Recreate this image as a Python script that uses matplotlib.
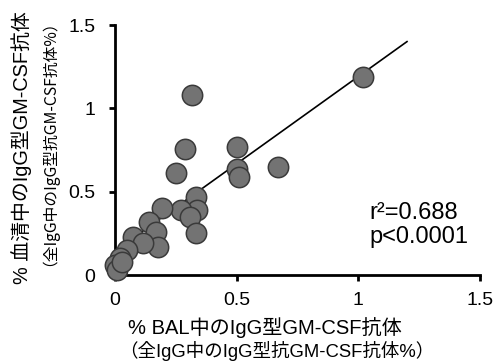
import matplotlib
matplotlib.use("Agg")
import matplotlib.pyplot as plt
import numpy as np

# BAL vs serum IgG GM-CSF autoantibody (%)
bal_pct = [1.02, 0.316, 0.288, 0.50, 0.25, 0.67, 0.50, 0.51, 0.333, 0.337, 0.27, 0.31,
           0.333, 0.193, 0.14, 0.17, 0.177, 0.074, 0.115, 0.05, 0.02, 0.0, 0.01, 0.03]
serum_pct = [1.19, 1.08, 0.755, 0.77, 0.61, 0.65, 0.635, 0.59, 0.47, 0.39, 0.39, 0.35,
             0.25, 0.40, 0.32, 0.26, 0.17, 0.23, 0.19, 0.15, 0.10, 0.06, 0.03, 0.08]
fit_slope = 1.047
fit_intercept = 0.144
fit_x_range = [0.0, 1.2]
ticks = [0, 0.5, 1, 1.5]
tick_labels = ["0", "0.5", "1", "1.5"]
stats_text = "r²=0.688\np<0.0001"
xlabel_lines = ["% BAL中のIgG型GM-CSF抗体", "（全IgG中のIgG型抗GM-CSF抗体%）"]
ylabel_lines = ["% 血清中のIgG型GM-CSF抗体", "（全IgG中のIgG型抗GM-CSF抗体%）"]

latin = ['Liberation Sans', 'Noto Sans CJK JP', 'DejaVu Sans']
cjk = ['Noto Sans CJK JP', 'DejaVu Sans']
plt.rcParams['font.family'] = latin

W, H = 497, 364
fig = plt.figure(figsize=(W / 100, H / 100), dpi=100)
ax = fig.add_axes([115 / W, 1 - 275 / H, 365 / W, 250 / H])

fx = np.array(fit_x_range)
ax.plot(fx, fit_slope * fx + fit_intercept, color="black", lw=1.2, zorder=2)
ax.scatter(bal_pct, serum_pct, s=215, facecolor="#737373", edgecolor="#3a3a3a",
           linewidth=1.1, zorder=3, clip_on=False)

ax.set_xlim(0, 1.5)
ax.set_ylim(0, 1.5)
ax.set_xticks(ticks)
ax.set_xticklabels(tick_labels)
ax.set_yticks(ticks)
ax.set_yticklabels(tick_labels)
for s in ["top", "right"]:
    ax.spines[s].set_visible(False)
for s in ["left", "bottom"]:
    ax.spines[s].set_linewidth(2.0)
ax.tick_params(axis="both", length=4, width=2, labelsize=14)
ax.tick_params(axis="y", pad=10)
ax.tick_params(axis="x", pad=8)
for lab in ax.get_xticklabels() + ax.get_yticklabels():
    lab.set_family(latin)

ax.text(1.045, 0.30, stats_text, fontsize=17, ha="left", va="center", linespacing=1.1,
        family=latin)

fig.text(128 / W, 1 - 328 / H, xlabel_lines[0], family=latin, fontsize=14.5,
         ha="left", va="center")
fig.text(119 / W, 1 - 351 / H, xlabel_lines[1], family=latin, fontsize=13.3,
         ha="left", va="center")
fig.text(22 / W, 1 - 148 / H, ylabel_lines[0], family=latin, fontsize=14.3,
         ha="center", va="center", rotation=90)
fig.text(41 / W, 1 - 135 / H, ylabel_lines[1], family=cjk, fontsize=11.3,
         ha="center", va="center", rotation=90)

fig.savefig("out.png", dpi=100)
